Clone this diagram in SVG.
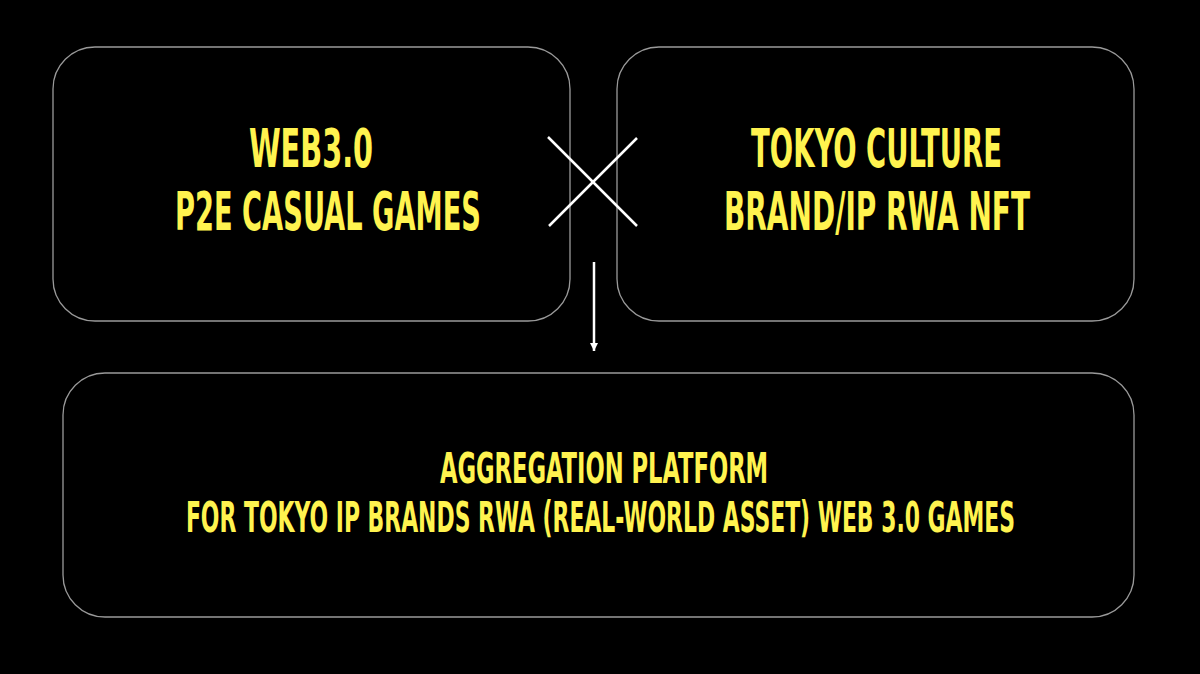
<svg xmlns="http://www.w3.org/2000/svg" width="1200" height="674" viewBox="0 0 1200 674">
<defs>
<style>
.box{fill:#000;stroke:#9a9a9a;stroke-width:1.3}
.t{fill:#FFF34F;font-family:"DejaVu Sans Condensed","Liberation Sans Narrow","Liberation Sans",sans-serif;font-weight:bold;text-anchor:middle}
.big{font-size:54px}
.mid{font-size:42px}
.ln{stroke:#fff;stroke-width:2.5;fill:none}
</style>
<marker id="ah" viewBox="0 0 10 10" refX="10" refY="5" markerWidth="8" markerHeight="8" markerUnits="userSpaceOnUse" orient="auto">
<path d="M0,0 L10,5 L0,10 Z" fill="#fff"/>
</marker>
</defs>
<rect width="1200" height="674" fill="#000"/>
<g id="node-left">
<rect class="box" x="53" y="47" width="517" height="274" rx="42"/>
<text class="t big" transform="translate(311,167) scale(0.6,1)" x="0" y="0" textLength="207" lengthAdjust="spacingAndGlyphs">WEB3.0</text>
<text class="t big" transform="translate(328,230) scale(0.6,1)" x="0" y="0" textLength="510" lengthAdjust="spacingAndGlyphs">P2E CASUAL GAMES</text>
</g>
<g id="node-right">
<rect class="box" x="617" y="47" width="517" height="274" rx="42"/>
<text class="t big" transform="translate(876.5,167) scale(0.6,1)" x="0" y="0" textLength="418" lengthAdjust="spacingAndGlyphs">TOKYO CULTURE</text>
<text class="t big" transform="translate(877,230) scale(0.6,1)" x="0" y="0" textLength="510" lengthAdjust="spacingAndGlyphs">BRAND/IP RWA NFT</text>
</g>
<g id="node-bottom">
<rect class="box" x="63" y="373" width="1071" height="244" rx="42"/>
<text class="t mid" transform="translate(604,483) scale(0.6,1)" x="0" y="0" textLength="547" lengthAdjust="spacingAndGlyphs">AGGREGATION PLATFORM</text>
<text class="t mid" transform="translate(600.5,532) scale(0.6,1)" x="0" y="0" textLength="1382" lengthAdjust="spacingAndGlyphs">FOR TOKYO IP BRANDS RWA (REAL-WORLD ASSET) WEB 3.0 GAMES</text>
</g>
<g id="connectors">
<line class="ln" x1="548" y1="137" x2="637" y2="226"/>
<line class="ln" x1="637" y1="138" x2="549" y2="226"/>
<line class="ln" x1="594" y1="262" x2="594" y2="351" stroke-width="2" marker-end="url(#ah)"/>
</g>
</svg>
